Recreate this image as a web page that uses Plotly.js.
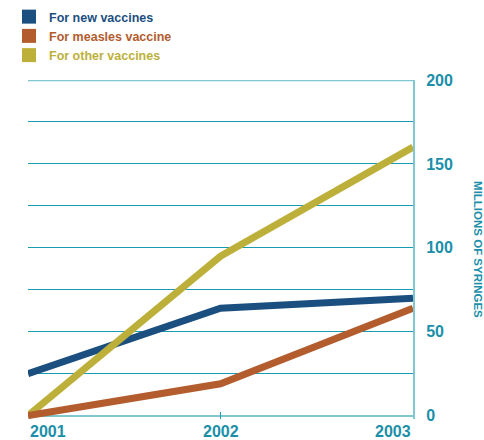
<!DOCTYPE html>
<html>
<head>
<meta charset="utf-8">
<script src="https://cdn.plot.ly/plotly-3.0.1.min.js"></script>
<style>html,body{margin:0;padding:0;background:#fff;}#chart{width:484px;height:440px;}</style>
</head>
<body>
<div id="chart"></div>
<script>
const years = [2001, 2002, 2003];
const yearLabels = ['2001', '2002', '2003'];
const seriesNames = ['For new vaccines', 'For measles vaccine', 'For other vaccines'];
const newVaccines = [25, 64, 70];
const measlesVaccine = [0, 19, 64];
const otherVaccines = [0, 95, 160];
const seriesColors = ['#1b4f7f', '#b35c2e', '#bdb03a'];
const yGridVals = [0, 25, 50, 75, 100, 125, 150, 175, 200];
const yGridLabels = ['0', '', '50', '', '100', '', '150', '', '200'];
const yTitle = 'MILLIONS OF SYRINGES';

const teal = '#1b8fa9';
const gridTeal = '#1a9bb4';
const frameTeal = '#7fc7d1';

const seriesValues = [newVaccines, measlesVaccine, otherVaccines];
const drawOrder = [0, 2, 1];
const traces = drawOrder.map(i => ({
  type: 'scatter', mode: 'lines', x: years, y: seriesValues[i],
  line: {color: seriesColors[i], width: 7},
  showlegend: false, hoverinfo: 'skip'
}));
seriesNames.forEach((n, i) => {
  traces.push({
    type: 'scatter', mode: 'markers', x: [null], y: [null],
    name: '<span style="color:' + seriesColors[i] + '">' + n + '</span>',
    marker: {symbol: 'square', size: 14, color: seriesColors[i]},
    legendrank: i + 1, showlegend: true
  });
});

const annotations = yearLabels.map((t, i) => ({
  text: t, x: years[i], xref: 'x', y: 0, yref: 'paper',
  xanchor: i === 0 ? 'left' : (i === yearLabels.length - 1 ? 'right' : 'center'),
  yanchor: 'top', yshift: -2, showarrow: false,
  font: {family: 'Liberation Sans, Arial, sans-serif', size: 16, color: teal, weight: 'bold'}
}));
annotations.push({
  text: '<b>' + yTitle + '</b>', textangle: 90, xref: 'paper', yref: 'paper',
  x: 1.17, y: 0.5, xanchor: 'center', yanchor: 'middle', showarrow: false,
  font: {family: 'Liberation Sans, Arial, sans-serif', size: 11.5, color: teal}
});

const layout = {
  width: 484, height: 440,
  margin: {l: 28, r: 71, t: 80, b: 21, autoexpand: false},
  paper_bgcolor: '#fff', plot_bgcolor: '#fff',
  showlegend: true,
  legend: {
    x: 9 / 484, xref: 'container', y: 1 - 2 / 440, yref: 'container', xanchor: 'left', yanchor: 'top',
    traceorder: 'normal', itemwidth: 30, tracegroupgap: 0,
    font: {family: 'Liberation Sans, Arial, sans-serif', size: 12.5, weight: 'bold'},
    bgcolor: 'rgba(0,0,0,0)'
  },
  xaxis: {
    range: [2001, 2003], showgrid: false, zeroline: false, showline: false,
    showticklabels: false, tickvals: years, ticks: 'inside', ticklen: 7, tickcolor: gridTeal, tickwidth: 1
  },
  yaxis: {
    side: 'right', range: [-2, 200], tickmode: 'array', tickvals: yGridVals, ticktext: yGridLabels,
    showgrid: true, gridcolor: gridTeal, gridwidth: 1,
    zeroline: true, zerolinecolor: frameTeal, zerolinewidth: 2,
    showline: true, linecolor: frameTeal, linewidth: 2,
    ticks: '', ticklabelstandoff: 8,
    tickfont: {family: 'Liberation Sans, Arial, sans-serif', size: 16, color: teal, weight: 'bold'}
  },
  shapes: [{
    type: 'line', xref: 'paper', x0: 0, x1: 1, yref: 'y', y0: yGridVals[yGridVals.length - 1], y1: yGridVals[yGridVals.length - 1],
    line: {color: frameTeal, width: 2.5}, layer: 'above'
  }],
  annotations: annotations
};

Plotly.newPlot('chart', traces, layout, {displayModeBar: false, staticPlot: true});
</script>
</body>
</html>
